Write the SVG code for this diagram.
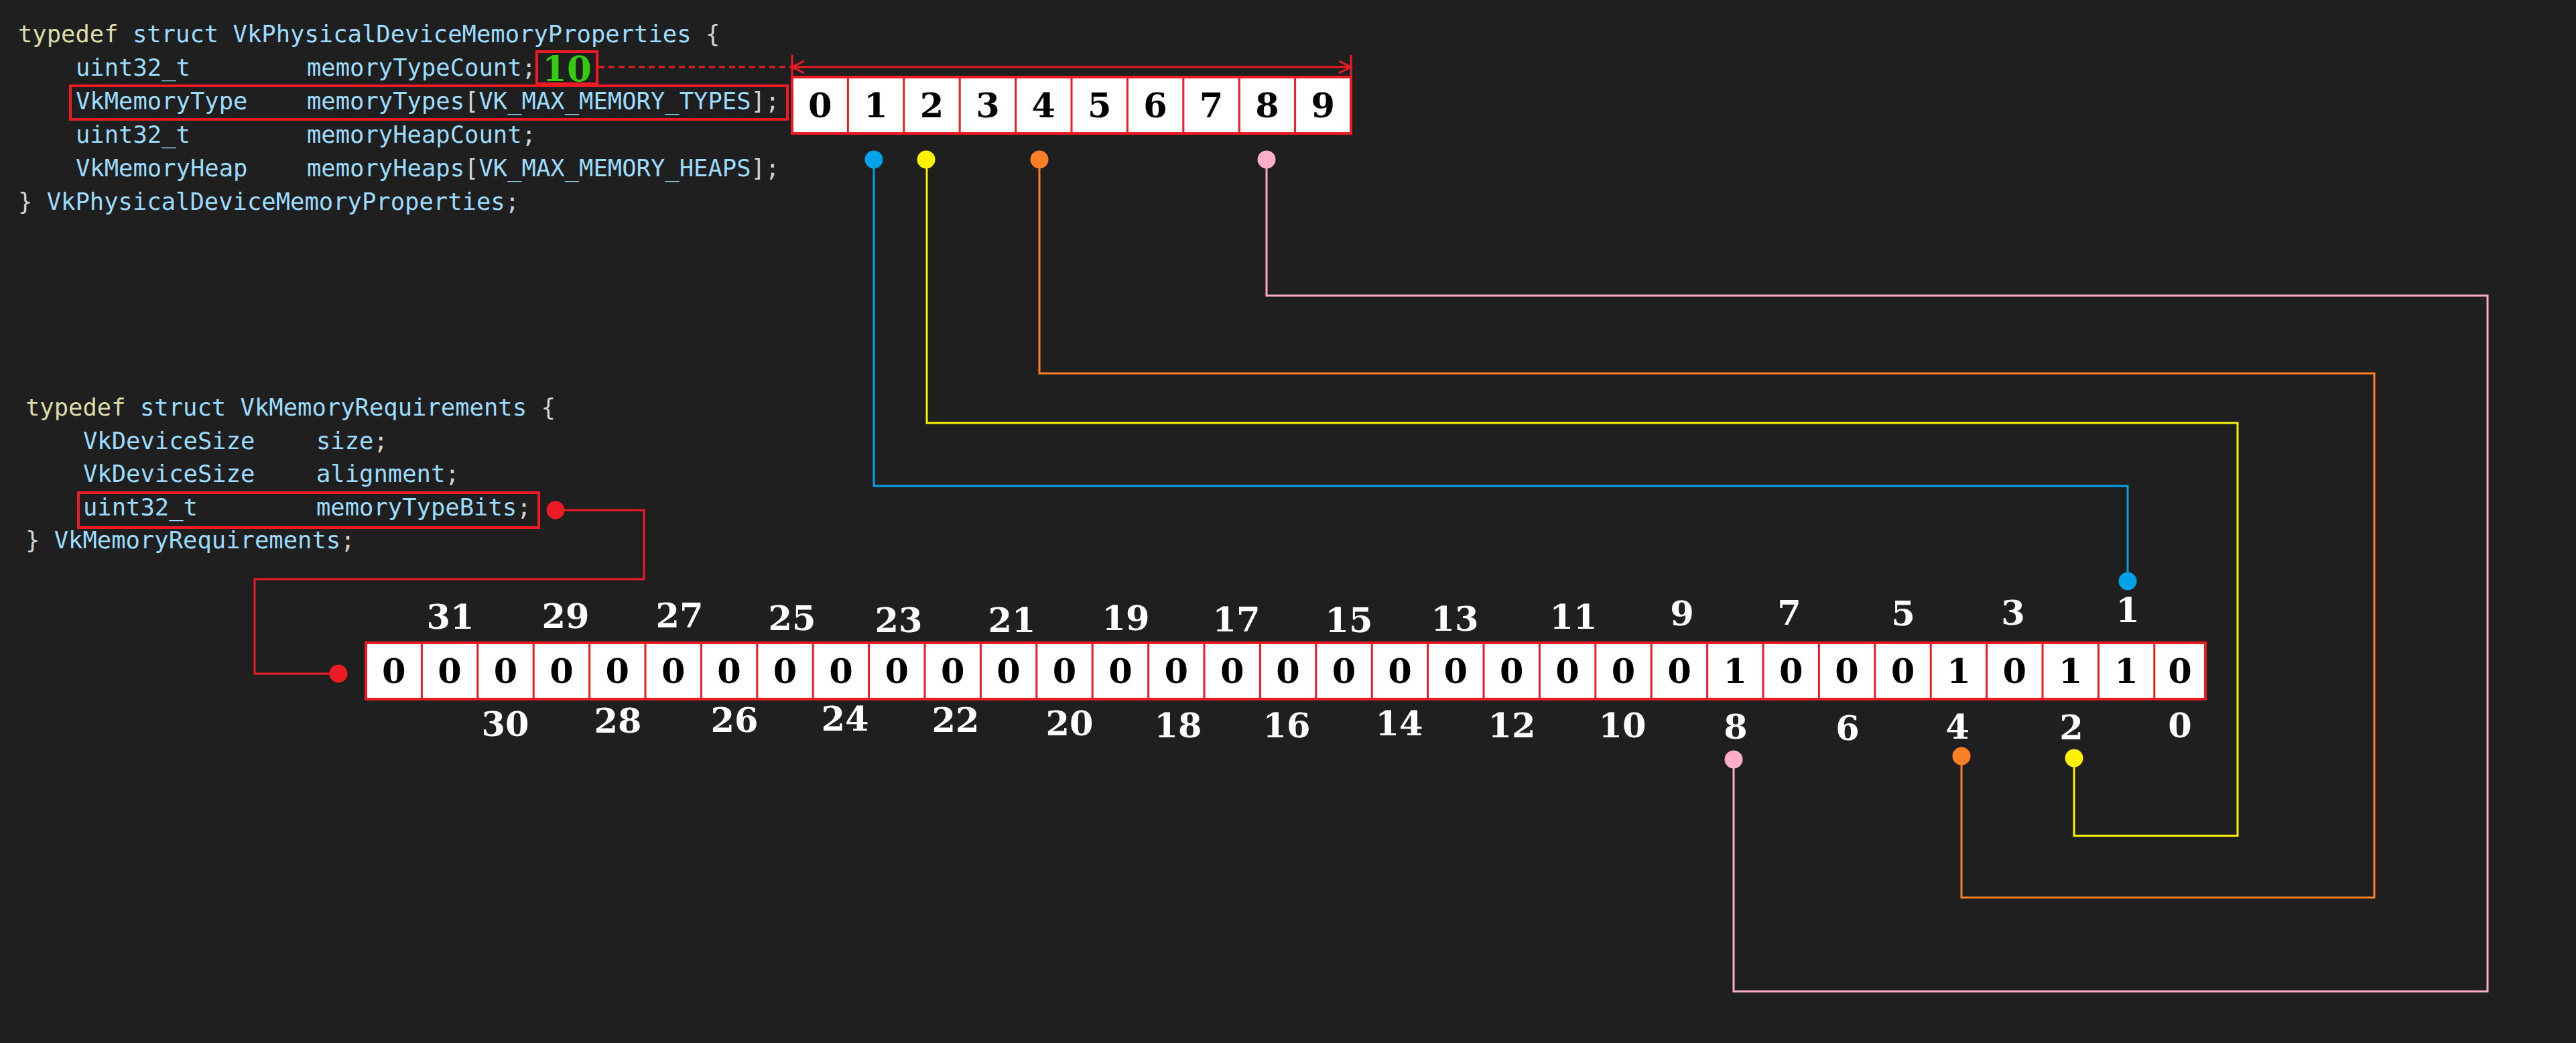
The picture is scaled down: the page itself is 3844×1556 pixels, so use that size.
<svg xmlns="http://www.w3.org/2000/svg" width="3844" height="1556" viewBox="0 0 3844 1556">
<style>
.code{font-family:"DejaVu Sans Mono","Liberation Mono",monospace;font-size:35.5px;white-space:pre}
.kw{fill:#dcdcaa}
.id{fill:#9cdcfe}
.pn{fill:#d4d4d4}
.dg{font-family:"DejaVu Serif","Liberation Serif",serif;font-weight:bold;font-size:51px;text-anchor:middle;fill:#000}
.lb{font-family:"DejaVu Serif","Liberation Serif",serif;font-weight:bold;font-size:51px;text-anchor:middle;fill:#fff}
.rbox{fill:none;stroke:#ed1c24;stroke-width:4}
.cells{fill:#fff;stroke:#ed1c24;stroke-width:4}
.div{fill:none;stroke:#ed1c24;stroke-width:3}
.wire{fill:none;stroke-width:3;stroke-linejoin:miter}
</style>
<rect x="0" y="0" width="3844" height="1556" fill="#1f1f1f"/>

<g id="struct-physical-device-memory-properties">
  <text class="code" x="27" y="63" xml:space="preserve"><tspan class="kw">typedef</tspan><tspan class="id"> struct VkPhysicalDeviceMemoryProperties</tspan><tspan class="pn"> {</tspan></text>
  <text class="code id" x="113" y="113">uint32_t</text>
  <text class="code" x="458" y="113"><tspan class="id">memoryTypeCount</tspan><tspan class="pn">;</tspan></text>
  <text class="code id" x="113" y="163">VkMemoryType</text>
  <text class="code" x="458" y="163"><tspan class="id">memoryTypes</tspan><tspan class="pn">[</tspan><tspan class="id">VK_MAX_MEMORY_TYPES</tspan><tspan class="pn">];</tspan></text>
  <text class="code id" x="113" y="213">uint32_t</text>
  <text class="code" x="458" y="213"><tspan class="id">memoryHeapCount</tspan><tspan class="pn">;</tspan></text>
  <text class="code id" x="113" y="263">VkMemoryHeap</text>
  <text class="code" x="458" y="263"><tspan class="id">memoryHeaps</tspan><tspan class="pn">[</tspan><tspan class="id">VK_MAX_MEMORY_HEAPS</tspan><tspan class="pn">];</tspan></text>
  <text class="code" x="27" y="313" xml:space="preserve"><tspan class="pn">}</tspan><tspan class="id"> VkPhysicalDeviceMemoryProperties</tspan><tspan class="pn">;</tspan></text>
  <rect class="rbox" x="105" y="128" width="1070" height="50"/>
</g>

<g id="memory-type-count">
  <rect class="rbox" x="801" y="77" width="90" height="48"/>
  <text x="846" y="121" font-family="DejaVu Serif, Liberation Serif, serif" font-weight="bold" font-size="53" text-anchor="middle" fill="#33cc11">10</text>
</g>

<g id="memory-types-array">
  <rect class="cells" x="1182" y="115" width="834" height="84"/>
  <path class="div" d="M1265.4 115V199M1348.8 115V199M1432.2 115V199M1515.6 115V199M1599 115V199M1682.4 115V199M1765.8 115V199M1849.2 115V199M1932.6 115V199"/>
  <text class="dg" x="1223.7" y="175">0</text>
  <text class="dg" x="1307.1" y="175">1</text>
  <text class="dg" x="1390.5" y="175">2</text>
  <text class="dg" x="1473.9" y="175">3</text>
  <text class="dg" x="1557.3" y="175">4</text>
  <text class="dg" x="1640.7" y="175">5</text>
  <text class="dg" x="1724.1" y="175">6</text>
  <text class="dg" x="1807.5" y="175">7</text>
  <text class="dg" x="1890.9" y="175">8</text>
  <text class="dg" x="1974.3" y="175">9</text>
</g>

<g id="struct-memory-requirements">
  <text class="code" x="38" y="620" xml:space="preserve"><tspan class="kw">typedef</tspan><tspan class="id"> struct VkMemoryRequirements</tspan><tspan class="pn"> {</tspan></text>
  <text class="code id" x="124" y="670">VkDeviceSize</text>
  <text class="code" x="472" y="670"><tspan class="id">size</tspan><tspan class="pn">;</tspan></text>
  <text class="code id" x="124" y="719">VkDeviceSize</text>
  <text class="code" x="472" y="719"><tspan class="id">alignment</tspan><tspan class="pn">;</tspan></text>
  <text class="code id" x="124" y="769">uint32_t</text>
  <text class="code" x="472" y="769"><tspan class="id">memoryTypeBits</tspan><tspan class="pn">;</tspan></text>
  <text class="code" x="38" y="818" xml:space="preserve"><tspan class="pn">}</tspan><tspan class="id"> VkMemoryRequirements</tspan><tspan class="pn">;</tspan></text>
  <rect class="rbox" x="117" y="735" width="687" height="52"/>
</g>

<g id="memory-type-bits-array">
  <rect class="cells" x="546" y="959" width="2745" height="84"/>
  <path class="div" d="M629.4 959V1043M712.8 959V1043M796.2 959V1043M879.6 959V1043M963 959V1043M1046.4 959V1043M1129.8 959V1043M1213.2 959V1043M1296.6 959V1043M1380 959V1043M1463.4 959V1043M1546.8 959V1043M1630.2 959V1043M1713.6 959V1043M1797 959V1043M1880.4 959V1043M1963.8 959V1043M2047.2 959V1043M2130.6 959V1043M2214 959V1043M2297.4 959V1043M2380.8 959V1043M2464.2 959V1043M2547.6 959V1043M2631 959V1043M2714.4 959V1043M2797.8 959V1043M2881.2 959V1043M2964.6 959V1043M3048 959V1043M3131.4 959V1043M3214.8 959V1043"/>
  <text class="dg" x="587.7" y="1019">0</text>
  <text class="dg" x="671.1" y="1019">0</text>
  <text class="dg" x="754.5" y="1019">0</text>
  <text class="dg" x="837.9" y="1019">0</text>
  <text class="dg" x="921.3" y="1019">0</text>
  <text class="dg" x="1004.7" y="1019">0</text>
  <text class="dg" x="1088.1" y="1019">0</text>
  <text class="dg" x="1171.5" y="1019">0</text>
  <text class="dg" x="1254.9" y="1019">0</text>
  <text class="dg" x="1338.3" y="1019">0</text>
  <text class="dg" x="1421.7" y="1019">0</text>
  <text class="dg" x="1505.1" y="1019">0</text>
  <text class="dg" x="1588.5" y="1019">0</text>
  <text class="dg" x="1671.9" y="1019">0</text>
  <text class="dg" x="1755.3" y="1019">0</text>
  <text class="dg" x="1838.7" y="1019">0</text>
  <text class="dg" x="1922.1" y="1019">0</text>
  <text class="dg" x="2005.5" y="1019">0</text>
  <text class="dg" x="2088.9" y="1019">0</text>
  <text class="dg" x="2172.3" y="1019">0</text>
  <text class="dg" x="2255.7" y="1019">0</text>
  <text class="dg" x="2339.1" y="1019">0</text>
  <text class="dg" x="2422.5" y="1019">0</text>
  <text class="dg" x="2505.9" y="1019">0</text>
  <text class="dg" x="2589.3" y="1019">1</text>
  <text class="dg" x="2672.7" y="1019">0</text>
  <text class="dg" x="2756.1" y="1019">0</text>
  <text class="dg" x="2839.5" y="1019">0</text>
  <text class="dg" x="2922.9" y="1019">1</text>
  <text class="dg" x="3006.3" y="1019">0</text>
  <text class="dg" x="3089.7" y="1019">1</text>
  <text class="dg" x="3173.1" y="1019">1</text>
  <text class="dg" x="3252.9" y="1019">0</text>
</g>

<g id="bit-labels">
  <text class="lb" x="672" y="938">31</text>
  <text class="lb" x="844" y="937">29</text>
  <text class="lb" x="1014" y="936">27</text>
  <text class="lb" x="1182" y="940">25</text>
  <text class="lb" x="1341" y="943">23</text>
  <text class="lb" x="1510" y="943">21</text>
  <text class="lb" x="1680" y="940">19</text>
  <text class="lb" x="1845" y="942">17</text>
  <text class="lb" x="2013" y="943">15</text>
  <text class="lb" x="2171" y="941">13</text>
  <text class="lb" x="2348" y="938">11</text>
  <text class="lb" x="2510" y="933">9</text>
  <text class="lb" x="2670" y="932">7</text>
  <text class="lb" x="2840" y="933">5</text>
  <text class="lb" x="3004" y="932">3</text>
  <text class="lb" x="3175" y="928">1</text>
  <text class="lb" x="754" y="1098">30</text>
  <text class="lb" x="922" y="1093">28</text>
  <text class="lb" x="1096" y="1092">26</text>
  <text class="lb" x="1261" y="1090">24</text>
  <text class="lb" x="1426" y="1092">22</text>
  <text class="lb" x="1596" y="1097">20</text>
  <text class="lb" x="1758" y="1100">18</text>
  <text class="lb" x="1920" y="1100">16</text>
  <text class="lb" x="2088" y="1097">14</text>
  <text class="lb" x="2256" y="1100">12</text>
  <text class="lb" x="2421" y="1100">10</text>
  <text class="lb" x="2590" y="1102">8</text>
  <text class="lb" x="2757" y="1104">6</text>
  <text class="lb" x="2921" y="1102">4</text>
  <text class="lb" x="3091" y="1103">2</text>
  <text class="lb" x="3253" y="1100">0</text>
</g>

<g id="connectors">
  <path class="wire" stroke="#ed1c24" stroke-dasharray="9 6" d="M893 100H1180"/>
  <path class="wire" stroke="#ed1c24" d="M1182 82V115M2016 82V115M1182 100H2016M1200 91L1182 100L1200 109M1998 91L2016 100L1998 109"/>
  <path class="wire" stroke="#00a2e8" d="M1304 238V725H3175V867"/>
  <path class="wire" stroke="#fff200" d="M1383 238V631H3339V1247H3095V1131"/>
  <path class="wire" stroke="#ff7f27" d="M1551 238V557H3543V1339H2927V1128"/>
  <path class="wire" stroke="#ffaec9" d="M1890 238V441H3712V1479H2587V1133"/>
  <path class="wire" stroke="#ed1c24" d="M829 761H961V864H380V1005H505"/>
  <circle cx="1304" cy="238" r="13.5" fill="#00a2e8"/>
  <circle cx="1382" cy="238" r="13.5" fill="#fff200"/>
  <circle cx="1551" cy="238" r="13.5" fill="#ff7f27"/>
  <circle cx="1890" cy="238" r="13.5" fill="#ffaec9"/>
  <circle cx="3175" cy="867" r="13.5" fill="#00a2e8"/>
  <circle cx="3095" cy="1131" r="13.5" fill="#fff200"/>
  <circle cx="2927" cy="1128" r="13.5" fill="#ff7f27"/>
  <circle cx="2587" cy="1133" r="13.5" fill="#ffaec9"/>
  <circle cx="829" cy="761" r="13.5" fill="#ed1c24"/>
  <circle cx="505" cy="1005" r="13.5" fill="#ed1c24"/>
</g>
</svg>
